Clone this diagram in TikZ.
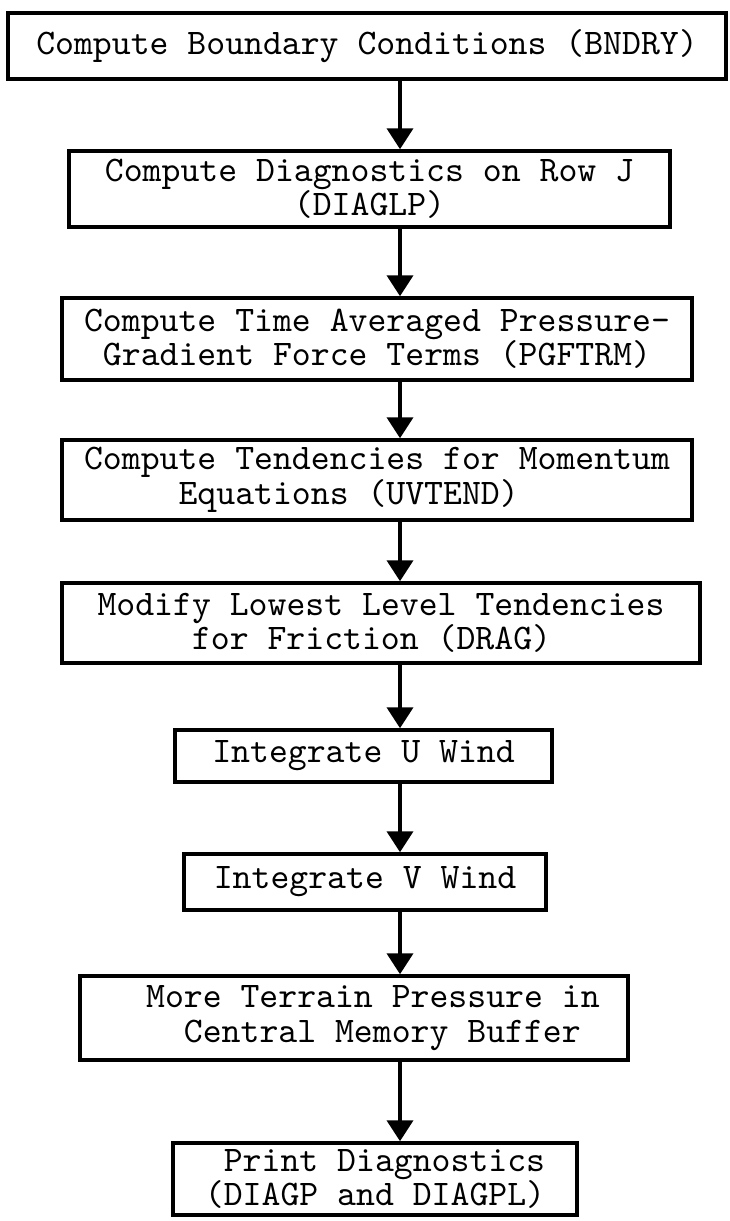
\documentclass[tikz,border=0pt]{standalone}
\usepackage{fontspec}
\newfontfamily\tw[WordSpace={1,0,0}]{lmmono10-regular.otf}
\usetikzlibrary{arrows.meta}

\begin{document}
\begin{tikzpicture}[x=1pt,y=-1pt,
  stepbox/.style={draw, line width=3.5pt, rectangle, inner sep=0pt,
    font=\tw\fontsize{36}{34.5}\selectfont},
  flow/.style={line width=4pt, -{Triangle[width=26pt,length=21pt]}}]
\useasboundingbox (0,0) rectangle (730,1221);
\fill[white] (0,0) rectangle (730,1221);

% processing steps, top to bottom
\node[stepbox, minimum width=718pt, minimum height=66pt] (bndry) at (367,46)
  {Compute Boundary Conditions (BNDRY)};
\node[stepbox, minimum width=601pt, minimum height=76pt, align=center] (diag) at (369.5,189)
  {Compute Diagnostics on Row J\\(DIAGLP)};
\node[stepbox, minimum width=630pt, minimum height=82pt, align=left] (pgf) at (377,339)
  {Compute Time Averaged Pressure-\\~Gradient Force Terms (PGFTRM)};
\node[stepbox, minimum width=630pt, minimum height=80pt, align=left] (uvtend) at (377,480)
  {Compute Tendencies for Momentum\\~~~~~Equations (UVTEND)};
\node[stepbox, minimum width=638pt, minimum height=80pt, align=left] (drag) at (381,623)
  {Modify Lowest Level Tendencies\\~~~~~for Friction (DRAG)};
\node[stepbox, minimum width=377pt, minimum height=52pt] (uwind) at (363.5,756)
  {Integrate U Wind};
\node[stepbox, minimum width=362pt, minimum height=56pt] (vwind) at (365,882)
  {Integrate V Wind};
\node[stepbox, minimum width=548pt, minimum height=84pt, align=left] (terrain) at (354,1018)
  {~~More Terrain Pressure in\\~~~~Central Memory Buffer};
\node[stepbox, minimum width=404pt, minimum height=72pt, align=left] (print) at (375,1179)
  {~Print Diagnostics\\(DIAGP and DIAGPL)};

% all connectors run down one vertical line
\coordinate (axis) at (400,0);
\foreach \a/\b in {bndry/diag, diag/pgf, pgf/uvtend, uvtend/drag, drag/uwind,
                   uwind/vwind, vwind/terrain, terrain/print}
  \draw[flow] (\a.south -| axis) -- (\b.north -| axis);
\end{tikzpicture}
\end{document}
